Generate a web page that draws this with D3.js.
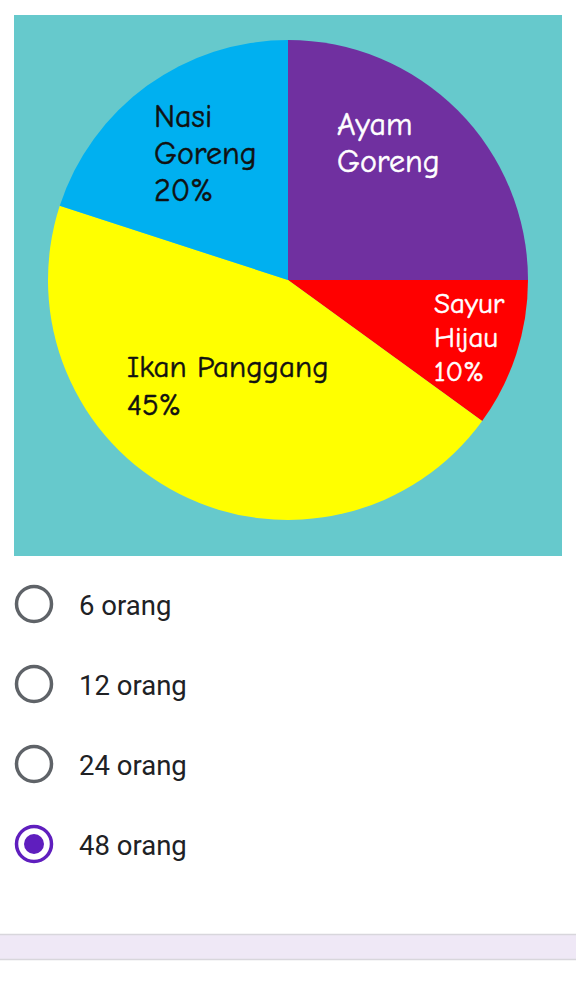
<!DOCTYPE html>
<html>
<head>
<meta charset="utf-8">
<script src="https://cdn.jsdelivr.net/npm/d3@7"></script>
<style>
  html, body { margin: 0; padding: 0; background: #ffffff; }
  svg { display: block; }
</style>
</head>
<body>
<svg id="chart" width="576" height="1008"></svg>
<script>
// ---- data ----
const categories = ["Ayam Goreng", "Sayur Hijau", "Ikan Panggang", "Nasi Goreng"];
const percents = [25, 10, 45, 20];
const labelLines = [
  ["Ayam", "Goreng"],
  ["Sayur", "Hijau", "10%"],
  ["Ikan Panggang", "45%"],
  ["Nasi", "Goreng", "20%"]
];
const options = ["6 orang", "12 orang", "24 orang", "48 orang"];
const selectedIndex = 3;

// ---- styles / layout ----
const sliceColors = ["#7030A0", "#FF0000", "#FFFF00", "#00B0F0"];
const textColors = ["#ffffff", "#ffffff", "#111111", "#111111"];
// label anchor offsets relative to pie centre, font size, line height
const labelLayout = [
  { dx: 49,  dy: -145, size: 32, lh: 37 },
  { dx: 146, dy: 33,   size: 29, lh: 34 },
  { dx: -161, dy: 97,  size: 31, lh: 38 },
  { dx: -134, dy: -153, size: 32, lh: 37 }
];

const svg = d3.select("#chart");
const cx = 288, cy = 280, R = 240;

svg.append("rect")
  .attr("x", 14).attr("y", 15).attr("width", 548).attr("height", 541)
  .attr("fill", "#66C9CC");

const pie = d3.pie().sort(null).value(d => d)(percents);
const arc = d3.arc().innerRadius(0).outerRadius(R);

const g = svg.append("g").attr("transform", `translate(${cx},${cy})`);
g.selectAll("path.slice")
  .data(pie)
  .join("path")
  .attr("class", "slice")
  .attr("d", arc)
  .attr("fill", (d, i) => sliceColors[i]);

const labelFont = "'Comic Sans MS', 'Comic Neue', 'DejaVu Sans', sans-serif";
pie.forEach((d, i) => {
  const L = labelLayout[i];
  const t = g.append("text")
    .attr("x", L.dx).attr("y", L.dy)
    .attr("fill", textColors[i])
    .attr("font-family", labelFont)
    .attr("font-weight", 400)
    .attr("stroke", textColors[i])
    .attr("stroke-width", 0.5)
    .attr("font-size", L.size);
  labelLines[i].forEach((line, k) => {
    t.append("tspan").attr("x", L.dx).attr("y", L.dy + k * L.lh).text(line);
  });
});

// ---- radio options ----
const rowScale = d3.scalePoint().domain(options).range([604, 844]);
const rows = svg.selectAll("g.opt")
  .data(options)
  .join("g")
  .attr("class", "opt")
  .attr("transform", d => `translate(34,${rowScale(d)})`);

rows.append("circle")
  .attr("r", 17.5)
  .attr("fill", "none")
  .attr("stroke", (d, i) => i === selectedIndex ? "#5F1EBE" : "#5F6368")
  .attr("stroke-width", 3.5);

rows.filter((d, i) => i === selectedIndex)
  .append("circle")
  .attr("r", 10)
  .attr("fill", "#5F1EBE");

rows.append("text")
  .attr("x", 45)
  .attr("y", 11)
  .attr("font-family", "Roboto, sans-serif")
  .attr("font-size", 27.5)
  .attr("fill", "#202124")
  .text(d => d);

// ---- bottom band ----
svg.append("rect")
  .attr("x", 0).attr("y", 934).attr("width", 576).attr("height", 26)
  .attr("fill", "#EFE8F6");
svg.append("line").attr("x1", 0).attr("x2", 576).attr("y1", 934.5).attr("y2", 934.5)
  .attr("stroke", "#D8D6DC").attr("stroke-width", 1.5);
svg.append("line").attr("x1", 0).attr("x2", 576).attr("y1", 959.5).attr("y2", 959.5)
  .attr("stroke", "#D8D6DC").attr("stroke-width", 1.5);
</script>
</body>
</html>
